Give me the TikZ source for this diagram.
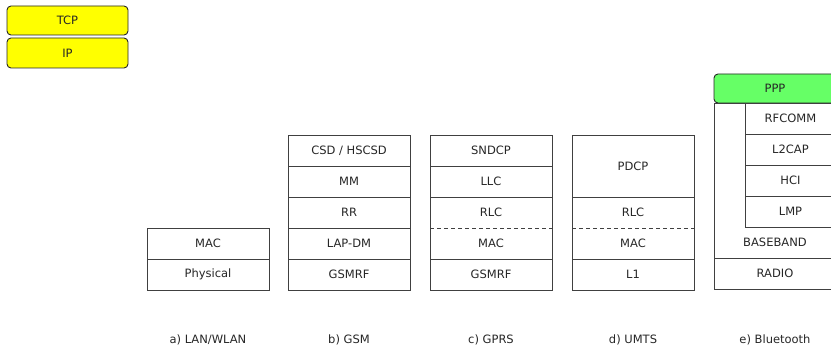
\documentclass[tikz,border=0pt]{standalone}
\usepackage{fontspec}
\setmainfont{DejaVu Sans}
\usepackage{tikz}
\usetikzlibrary{positioning}
\definecolor{hdyellow}{RGB}{255,255,0}
\definecolor{hdgreen}{RGB}{102,255,102}
\tikzset{
  stackbox/.style={draw=black!75, line width=0.9pt, align=center, font=\fontsize{11.5}{13}\selectfont,
    text=black!85, minimum width=122pt, minimum height=31pt, inner sep=0pt, outer sep=0pt},
  stackhead/.style={stackbox, draw=black!85, rounded corners=4pt, minimum height=29pt},
  stackline/.style={draw=black!75, line width=0.9pt},
  stackdash/.style={stackline, dashed, dash pattern=on 4pt off 3pt},
  stacklabel/.style={font=\fontsize{11.5}{13}\selectfont, text=black!85},
}

\begin{document}
\begin{tikzpicture}[x=1pt, y=-1pt]
  \useasboundingbox (0,0) rectangle (831,353);
  % common upper layers
  \node[stackhead, minimum width=121pt, fill=hdyellow] (tcp) at (67.5,20.5) {TCP};
  \node[stackhead, minimum width=121pt, minimum height=30pt, fill=hdyellow, below=3pt of tcp] (ip) {IP};
  % a) LAN/WLAN
  \node[stackbox] (lanmac) at (208,243.5) {MAC};
  \node[stackbox, below=0pt of lanmac] (lanphy) {Physical};
  % b) GSM
  \node[stackbox] (gsmcsd) at (349,150.5) {CSD / HSCSD};
  \node[stackbox, below=0pt of gsmcsd] (gsmmm) {MM};
  \node[stackbox, below=0pt of gsmmm] (gsmrr) {RR};
  \node[stackbox, below=0pt of gsmrr] (gsmlap) {LAP-DM};
  \node[stackbox, below=0pt of gsmlap] (gsmrf) {GSMRF};
  % c) GPRS
  \node[stackbox] (gprssndcp) at (491,150.5) {SNDCP};
  \node[stackbox, below=0pt of gprssndcp] (gprsllc) {LLC};
  \node[stackbox, draw=none, below=0pt of gprsllc] (gprsrlc) {RLC};
  \node[stackbox, draw=none, below=0pt of gprsrlc] (gprsmac) {MAC};
  \node[stackbox, below=0pt of gprsmac] (gprsrf) {GSMRF};
  \draw[stackline] (gprsrlc.north west) rectangle (gprsmac.south east);
  \draw[stackdash] (gprsrlc.south west) -- (gprsrlc.south east);
  % d) UMTS
  \node[stackbox, minimum height=62pt] (umtspdcp) at (633,166) {PDCP};
  \node[stackbox, draw=none, below=0pt of umtspdcp] (umtsrlc) {RLC};
  \node[stackbox, draw=none, below=0pt of umtsrlc] (umtsmac) {MAC};
  \node[stackbox, below=0pt of umtsmac] (umtsl1) {L1};
  \draw[stackline] (umtsrlc.north west) rectangle (umtsmac.south east);
  \draw[stackdash] (umtsrlc.south west) -- (umtsrlc.south east);
  % e) Bluetooth
  \node[stackhead, fill=hdgreen] (btppp) at (775,88.5) {PPP};
  \node[stackbox, minimum width=91pt, anchor=north east] (btrfcomm) at (btppp.south east) {RFCOMM};
  \node[stackbox, minimum width=91pt, below=0pt of btrfcomm] (btl2cap) {L2CAP};
  \node[stackbox, minimum width=91pt, below=0pt of btl2cap] (bthci) {HCI};
  \node[stackbox, minimum width=91pt, below=0pt of bthci] (btlmp) {LMP};
  \node[stackbox, draw=none, anchor=north] (btbase) at (btlmp.south -| btppp.south) {BASEBAND};
  \node[stackbox, below=0pt of btbase] (btradio) {RADIO};
  \draw[stackline] (btppp.south west) rectangle (btbase.south east);
  % captions
  \node[stacklabel] (capa) at (208,340) {a) LAN/WLAN};
  \node[stacklabel] (capb) at (349,340) {b) GSM};
  \node[stacklabel] (capc) at (491,340) {c) GPRS};
  \node[stacklabel] (capd) at (633,340) {d) UMTS};
  \node[stacklabel] (cape) at (775,340) {e) Bluetooth};
\end{tikzpicture}
\end{document}
